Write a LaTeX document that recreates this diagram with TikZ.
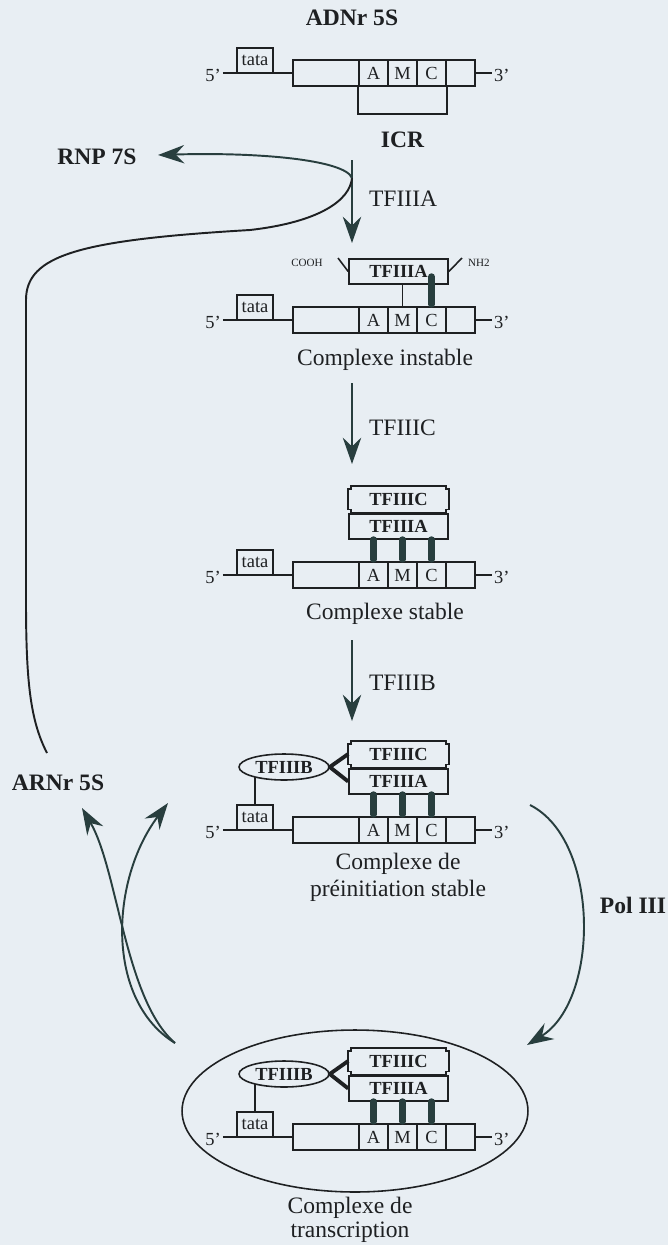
\documentclass[tikz,border=0pt]{standalone}
\usepackage{fontspec}
\setmainfont{Liberation Serif}
\usetikzlibrary{arrows.meta,calc,shapes.geometric}
\definecolor{bg}{RGB}{232,238,243}
\definecolor{ink}{RGB}{30,32,34}
\definecolor{ac}{RGB}{40,62,62}
\newcommand{\notchbox}[1]{\draw[wire] ($(#1.north west)+(3,0)$) -- ($(#1.north east)+(-3,0)$) -- ++(0,3) -- ++(3,0)
 -- ($(#1.south east)+(0,-3)$) -- ++(-3,0) -- ++(0,3) -- ($(#1.south west)+(3,0)$) -- ++(0,-3) -- ++(-3,0)
 -- ($(#1.north west)+(0,3)$) -- ++(3,0) -- cycle;}
\tikzset{wire/.style={draw=ink,line width=.9pt},
 gene/.style={wire,minimum width=3.64cm,minimum height=.52cm,inner sep=0pt},
 seg/.style={gene,minimum width=.58cm,text=ink,font=\fontsize{10.5}{12}\selectfont},
 tbox/.style={seg,minimum width=.72cm,minimum height=.5cm},
 fbox/.style={wire,minimum width=1.98cm,minimum height=.5cm,inner sep=0pt,text=ink,font=\bfseries\fontsize{10.5}{12}\selectfont},
 cbox/.style={fbox,draw=none},
 bell/.style={fbox,ellipse,minimum width=1.8cm,minimum height=.52cm},
 bar/.style={draw=ac,line width=4pt,line cap=round},
 fork/.style={draw=ink,line width=2.2pt,line join=round},
 arr/.style={draw=ac,line width=1.1pt,-{Stealth[length=15pt,width=10.5pt,inset=5pt]}},
 loop/.style={draw=ink,line width=1.1pt},
 lab/.style={text=ink,font=\fontsize{13.4}{15.5}\selectfont,inner sep=1pt},
 blab/.style={lab,font=\bfseries\fontsize{13.4}{15.5}\selectfont},
 small/.style={lab,font=\fontsize{10.5}{12}\selectfont},
 tiny/.style={text=ink,font=\fontsize{6.3}{7}\selectfont,inner sep=0pt}}
\begin{document}
\begin{tikzpicture}[x=.02cm,y=-.02cm]
\fill[bg] (0,0) rectangle (668,1245);
\useasboundingbox (0,0) rectangle (668,1245);
% les cinq unites d'ADN
\foreach \n/\y in {u1/73,u2/320,u3/575,u4/830,u5/1137}{
\node[gene] (\n-g) at (384,\y) {};
\foreach \l [count=\k] in {A,M,C}{\node[seg] (\n-\l) at (344.5+29*\k,\y) {\l};}
\node[tbox] (\n-t) at (255,\y-12.5) {tata};
\node[small] (\n-5) at (213,\y+2) {5'};\node[small,anchor=west] (\n-3) at (492,\y+2) {3'};
\draw[wire] (\n-5.east |- \n-g) -- (\n-g.west) (\n-g.east) -- (\n-3.west |- \n-g);}
\node[blab] (adn) at (352,18) {ADNr 5S};
\draw[wire] (u1-A.south west) -- ++(0,27) -| (u1-C.south east);
\node[blab] (icr) at (402.5,140) {ICR};
\coordinate (t1) at (352,160);\coordinate (h1) at (352,243);\draw[arr] (t1) -- (h1);
\node[lab,anchor=west] (fa) at (367,199) {TFIIIA};
% complexe instable
\node[fbox] (u2-a) at (398.5,271.5) {TFIIIA};
\draw[wire] (u2-a.south -| u2-M) -- (u2-M.north);
\draw[bar] ($(u2-C |- u2-a.south)+(0,-8)$) -- ($(u2-C.north)+(0,-2)$);
\node[tiny] (cooh) at (307,263) {COOH};\node[tiny] (nh2) at (479,263) {NH2};
\coordinate (k1) at (338,258);\coordinate (k2) at (462,258);
\draw[wire] (k1) -- (u2-a.west);\draw[wire] (u2-a.east) -- (k2);
\node[lab] (ci) at (385,360) {Complexe instable};
\coordinate (t2) at (352,383);\coordinate (h2) at (352,464);\draw[arr] (t2) -- (h2);
\node[lab,anchor=west] (fc) at (367,428) {TFIIIC};
% complexe stable
\node[cbox] (u3-c) at (398.5,499) {TFIIIC};\notchbox{u3-c}
\node[fbox] (u3-a) at (398.5,526.5) {TFIIIA};
\foreach \l in {A,M,C}{\draw[bar] (u3-\l |- u3-a.south) -- ($(u3-\l.north)+(0,-2)$);}
\node[lab] (cs) at (385,614) {Complexe stable};
\coordinate (t3) at (352,640);\coordinate (h3) at (352,721);\draw[arr] (t3) -- (h3);
\node[lab,anchor=west] (fb) at (367,683) {TFIIIB};
% preinitiation et transcription
\foreach \n/\y in {u4/830,u5/1137}{
\node[cbox] (\n-c) at (398.5,\y-76) {TFIIIC};\notchbox{\n-c}
\node[fbox] (\n-a) at (398.5,\y-48.5) {TFIIIA};
\node[bell] (\n-e) at (284,\y-63) {TFIIIB};
\draw[fork] (\n-c.west) -- (\n-e.east) -- (\n-a.west);
\draw[wire] (\n-t.north) -- (\n-t.north |- \n-e.199);
\foreach \l in {A,M,C}{\draw[bar] (\n-\l |- \n-a.south) -- ($(\n-\l.north)+(0,-2)$);}}
\node[lab,align=center] (cp) at (398,877) {Complexe de\\préinitiation stable};
\node[wire,ellipse,minimum width=6.92cm,minimum height=3.24cm] (tx) at (355,1111) {};
\node[lab,align=center,font=\fontsize{13.4}{13.8}\selectfont] (ct) at (350,1220) {Complexe de\\transcription};
% boucle de recyclage
\node[blab] (rnp) at (97,157) {RNP 7S};
\node[blab] (arn) at (58,783) {ARNr 5S};
\node[blab] (pol) at (633,905) {Pol III};
\coordinate (r0) at (47,753);\coordinate (r1) at (352,178);\coordinate (r2) at (158,155);
\draw[loop] (r0) .. controls (30,720) and (26,680) .. (26,600) -- (26,300)
 .. controls (26,255) and (80,240) .. (250,230) .. controls (320,222) and (350,200) .. (r1);
\draw[arr] (r1) .. controls (345,160) and (260,152) .. (r2);
\coordinate (p0) at (530,805);\coordinate (p1) at (527,1045);
\draw[arr] (p0) .. controls (600,840) and (600,1000) .. (p1);
\coordinate (q0) at (175,1043);\coordinate (q1) at (82,808);\coordinate (q2) at (168,803);
\draw[arr] (q0) .. controls (125,1000) and (118,870) .. (q1);
\draw[arr] (q0) .. controls (105,1000) and (110,880) .. (q2);
\end{tikzpicture}
\end{document}
